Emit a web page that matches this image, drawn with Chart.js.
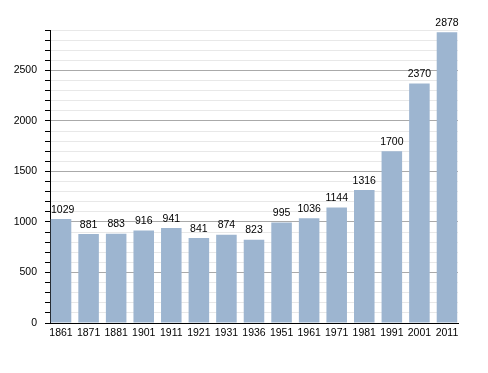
<!DOCTYPE html>
<html>
<head>
<meta charset="utf-8">
<script src="https://cdn.jsdelivr.net/npm/chart.js@4/dist/chart.umd.min.js"></script>
<style>
  html, body { margin: 0; padding: 0; background: #fff; }
  #wrap { width: 488px; height: 373px; }
</style>
</head>
<body>
<div id="wrap"><canvas id="chart"></canvas></div>
<script>
// census years and population
const years = ['1861', '1871', '1881', '1901', '1911', '1921', '1931', '1936', '1951', '1961', '1971', '1981', '1991', '2001', '2011'];
const population = [1029, 881, 883, 916, 941, 841, 874, 823, 995, 1036, 1144, 1316, 1700, 2370, 2878];

const BAR = 'rgb(157, 181, 208)';
const FONT = '"Liberation Sans", Arial, sans-serif';

// write the value on top of each bar, kept inside the plot on the left
const valueLabels = {
    id: 'valueLabels',
    afterDatasetsDraw(chart) {
        const ctx = chart.ctx;
        const meta = chart.getDatasetMeta(0);
        const left = chart.chartArea.left;
        ctx.save();
        ctx.font = '10.5px ' + FONT;
        ctx.fillStyle = '#000';
        ctx.textBaseline = 'bottom';
        meta.data.forEach((bar, i) => {
            const txt = String(population[i]);
            const w = ctx.measureText(txt).width;
            const x = Math.max(bar.x - w / 2, left + 1);
            ctx.fillText(txt, x, bar.y - 4);
        });
        ctx.restore();
    }
};

new Chart(document.getElementById('chart').getContext('2d'), {
    type: 'bar',
    data: {
        datasets: [{
            data: population.map((v, i) => ({ x: i, y: v })),
            backgroundColor: BAR,
            borderWidth: 0,
            barPercentage: 0.745,
            categoryPercentage: 1
        }]
    },
    options: {
        responsive: true,
        maintainAspectRatio: false,
        animation: false,
        layout: { padding: { left: 0, right: 30, top: 30, bottom: 30 } },
        plugins: {
            legend: { display: false },
            tooltip: { enabled: false }
        },
        scales: {
            x: {
                type: 'linear',
                offset: false,
                min: -0.4,
                max: years.length - 0.6,
                grid: { display: false, drawTicks: false, offset: false },
                border: { color: '#000', width: 1 },
                afterBuildTicks: (scale) => {
                    scale.ticks = years.map((y, i) => ({ value: i }));
                },
                ticks: {
                    color: '#000',
                    padding: 4,
                    maxRotation: 0,
                    autoSkip: false,
                    font: { family: FONT, size: 10.5 },
                    callback: (v) => years[v]
                },
                afterFit: (scale) => { scale.height = 20; }
            },
            y: {
                min: 0,
                max: 2900,
                grid: {
                    color: (c) => (c.tick && c.tick.value % 500 === 0) ? '#aaa' : '#e8e8e8',
                    tickColor: '#000',
                    tickLength: 5
                },
                border: { color: '#000', width: 1 },
                ticks: {
                    stepSize: 100,
                    autoSkip: false,
                    color: '#000',
                    padding: 8,
                    font: { family: FONT, size: 10.5 },
                    callback: (v) => v % 500 === 0 ? v : ''
                },
                afterFit: (scale) => { scale.width = 50; }
            }
        }
    },
    plugins: [valueLabels]
});
</script>
</body>
</html>
